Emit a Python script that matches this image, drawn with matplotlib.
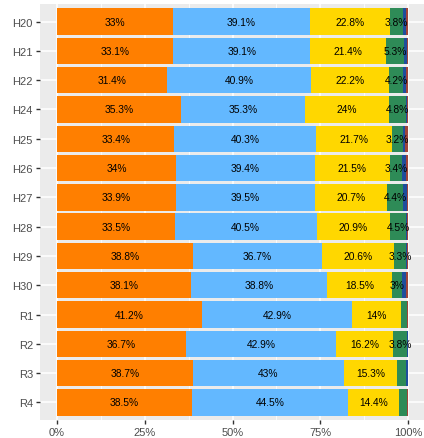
import matplotlib
matplotlib.use("Agg")
import matplotlib.pyplot as plt
import numpy as np

# categories, top to bottom
years = ["H20", "H21", "H22", "H24", "H25", "H26", "H27",
         "H28", "H29", "H30", "R1", "R2", "R3", "R4"]

# shares (%) for each segment, left to right
seg_orange = [33.0, 33.1, 31.4, 35.3, 33.4, 34.0, 33.9, 33.5, 38.8, 38.1, 41.2, 36.7, 38.7, 38.5]
seg_lblue = [39.1, 39.1, 40.9, 35.3, 40.3, 39.4, 39.5, 40.5, 36.7, 38.8, 42.9, 42.9, 43.0, 44.5]
seg_yellow = [22.8, 21.4, 22.2, 24.0, 21.7, 21.5, 20.7, 20.9, 20.6, 18.5, 14.0, 16.2, 15.3, 14.4]
seg_green = [3.8, 5.3, 4.2, 4.8, 3.2, 3.4, 4.4, 4.5, 3.3, 3.0, 1.7, 3.8, 2.5, 2.4]
seg_blue = [0.7, 0.8, 0.8, 0.4, 0.5, 1.2, 1.2, 0.4, 0.4, 0.9, 0.0, 0.3, 0.5, 0.0]
seg_red = [0.6, 0.3, 0.5, 0.2, 0.9, 0.5, 0.3, 0.2, 0.2, 0.7, 0.2, 0.1, 0.0, 0.2]

series = [seg_orange, seg_lblue, seg_yellow, seg_green, seg_blue, seg_red]
colors = ["#FF7F00", "#63B8FF", "#FFD700", "#2E8B57", "#1F4E9C", "#A0453A"]

plt.rcParams["font.family"] = ["Liberation Sans", "DejaVu Sans"]

fig = plt.figure(figsize=(4.24, 4.39), dpi=100)
ax = fig.add_axes([39.5 / 424, 18 / 439, 1 - 39.5 / 424, (421 - 5) / 439])
ax.set_facecolor("#EBEBEB")

y = np.arange(len(years))
left = np.zeros(len(years))

for vals, col in zip(series, colors):
    frac = np.array(vals) / 100.0
    ax.barh(y, frac, left=left, height=0.9, color=col, zorder=3)
    for yi, l, w, v in zip(y, left, frac, vals):
        if v >= 3:
            ax.text(l + w / 2, yi, f"{v:g}%", ha="center", va="center",
                    fontsize=7.4, color="black", zorder=4)
    left = left + frac

# grid like ggplot
ax.set_xticks([0, 0.25, 0.5, 0.75, 1.0])
ax.set_xticks([0.125, 0.375, 0.625, 0.875], minor=True)
ax.set_xticklabels(["0%", "25%", "50%", "75%", "100%"])
ax.set_yticks(y)
ax.set_yticklabels(years)
ax.grid(which="major", color="white", linewidth=1.1, zorder=0)
ax.grid(which="minor", axis="x", color="white", linewidth=0.55, zorder=0)
ax.tick_params(axis="both", which="major", length=2.75, width=1.0,
               color="#333333", labelsize=8, labelcolor="#4D4D4D", pad=2)
ax.tick_params(which="minor", length=0)

ax.set_xlim(-0.05, (424 - 57) / 351)
ax.set_ylim(len(years) - 1 + 0.6, -0.6)

for s in ax.spines.values():
    s.set_visible(False)

fig.savefig("out.png", dpi=100)
